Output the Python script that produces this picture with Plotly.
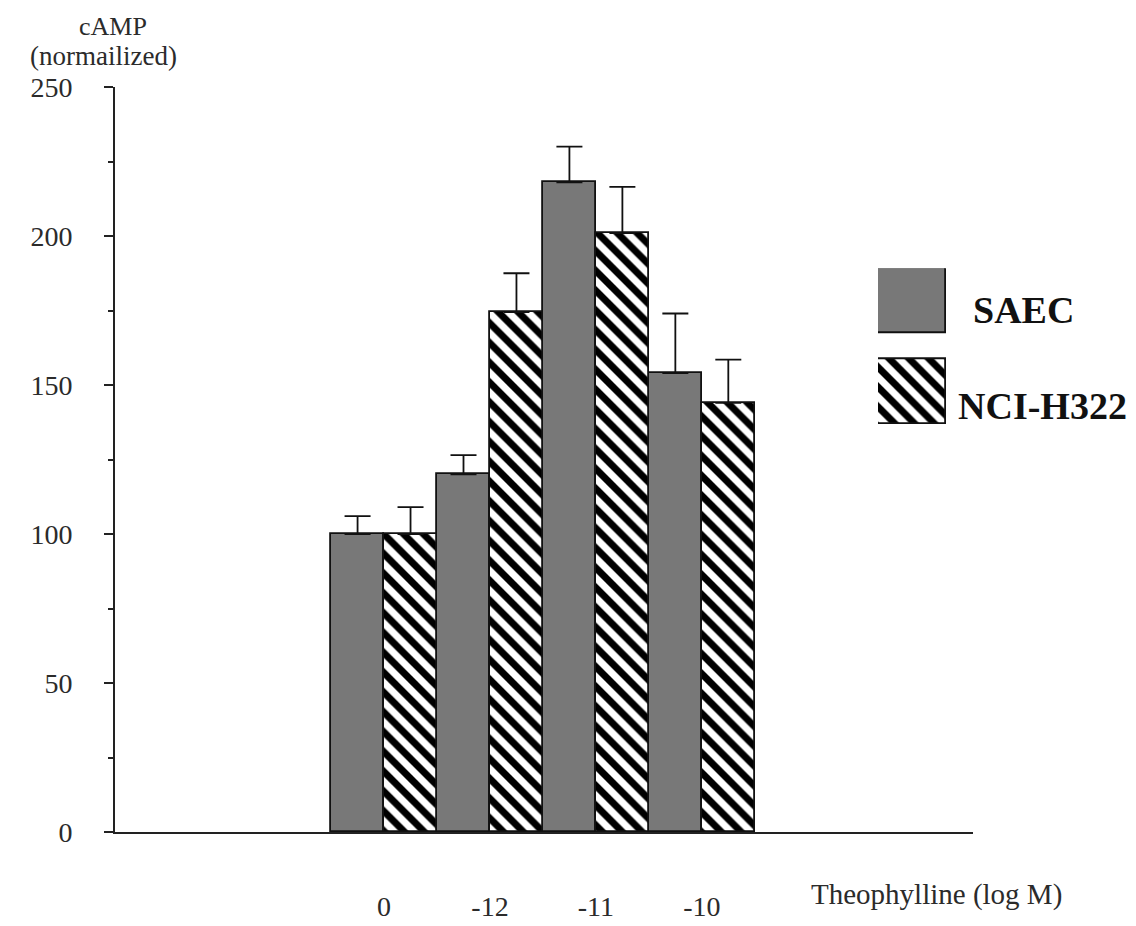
import plotly.graph_objects as go

# ---- data ----
categories = ["0", "-12", "-11", "-10"]
saec_values = [100, 120, 218, 154]
saec_errors = [6, 6.5, 12, 20]
nci_values = [100, 174.5, 201, 144]
nci_errors = [9, 13, 15.5, 14.5]
series_names = ["SAEC", "NCI-H322"]
y_ticks = [0, 50, 100, 150, 200, 250]

FONT = "Liberation Serif, Times New Roman, serif"
TXT = "#2b2b2b"
GRAY = "#787878"
HATCH = dict(shape="\\", fgcolor="#000000", fgopacity=1, bgcolor="#ffffff",
             size=14, solidity=0.5, fillmode="replace")

x_pos = list(range(len(categories)))

fig = go.Figure()
fig.add_trace(go.Bar(
    x=x_pos, y=saec_values, name=series_names[0],
    marker=dict(color=GRAY, line=dict(color="#111", width=1.8)),
    error_y=dict(type="data", array=saec_errors, arrayminus=[0]*4, symmetric=False,
                 color="#111", thickness=1.8, width=13),
    showlegend=False,
))
fig.add_trace(go.Bar(
    x=x_pos, y=nci_values, name=series_names[1],
    marker=dict(color="#000000", line=dict(color="#111", width=1.8), pattern=HATCH),
    error_y=dict(type="data", array=nci_errors, arrayminus=[0]*4, symmetric=False,
                 color="#111", thickness=1.8, width=13),
    showlegend=False,
))

# ---- custom legend swatches on an auxiliary axis ----
fig.add_trace(go.Bar(
    x=[0], y=[1], base=[1.39], width=[1], offset=[-0.5], xaxis="x2", yaxis="y2",
    marker=dict(color=GRAY, line=dict(color="#111", width=1.8)),
    showlegend=False, hoverinfo="skip",
))
fig.add_trace(go.Bar(
    x=[0], y=[1], base=[0], width=[1], offset=[-0.5], xaxis="x2", yaxis="y2",
    marker=dict(color="#000000", line=dict(color="#111", width=1.8), pattern=HATCH),
    showlegend=False, hoverinfo="skip",
))

W, H = 1136, 926
L, R, T, B = 107, 171, 79, 82
pw, ph = W - L - R, H - T - B

def px_x(px):
    return (px - L) / pw

def px_y(py):
    return (H - B - py) / ph

fig.update_layout(
    width=W, height=H,
    margin=dict(l=L, r=R, t=T, b=B, pad=0),
    paper_bgcolor="white", plot_bgcolor="white",
    barmode="group", bargap=0, bargroupgap=0,
    font=dict(family=FONT, size=28, color=TXT),
    xaxis=dict(
        range=[-2.54, 5.56], tickvals=x_pos, ticktext=categories,
        showline=True, linecolor="#222", linewidth=2, ticks="",
        showgrid=False, zeroline=False, ticklabelstandoff=48,
        tickfont=dict(family=FONT, size=28, color=TXT),
    ),
    yaxis=dict(
        range=[0, 250], tickvals=y_ticks,
        showline=True, linecolor="#222", linewidth=2,
        ticks="outside", ticklen=9, tickwidth=2, tickcolor="#222",
        minor=dict(dtick=25, ticks="outside", ticklen=5, tickwidth=1.5, tickcolor="#222"),
        showgrid=False, zeroline=False, ticklabelstandoff=26,
        tickfont=dict(family=FONT, size=28, color=TXT),
    ),
    xaxis2=dict(domain=[px_x(870), px_x(938)], range=[-0.5, 0.5], anchor="y2",
                visible=False, fixedrange=True),
    yaxis2=dict(domain=[px_y(425), px_y(265)], range=[0, 2.39], anchor="x2",
                visible=False, fixedrange=True),
    annotations=[
        dict(text="cAMP", xref="paper", yref="paper",
             x=px_x(105), y=px_y(17), xanchor="center", yanchor="middle",
             showarrow=False, font=dict(family=FONT, size=26, color=TXT)),
        dict(text="(normailized)", xref="paper", yref="paper",
             x=px_x(95), y=px_y(47), xanchor="center", yanchor="middle",
             showarrow=False, font=dict(family=FONT, size=27, color=TXT)),
        dict(text="Theophylline (log M)", xref="paper", yref="paper",
             x=px_x(801), y=px_y(908), xanchor="left", yanchor="middle",
             showarrow=False, font=dict(family=FONT, size=29, color=TXT)),
        dict(text="<b>SAEC</b>", xref="paper", yref="paper",
             x=px_x(963), y=px_y(308), xanchor="left", yanchor="middle",
             showarrow=False, font=dict(family=FONT, size=38, color="#111")),
        dict(text="<b>NCI-H322</b>", xref="paper", yref="paper",
             x=px_x(948), y=px_y(407), xanchor="left", yanchor="middle",
             showarrow=False, font=dict(family=FONT, size=38, color="#111")),
    ],
)

fig.write_html("out.html")
